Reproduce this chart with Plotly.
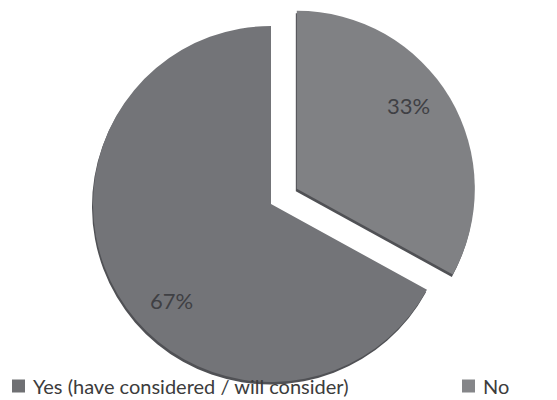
import math
import plotly.graph_objects as go

# Survey answers and their shares (%)
labels = ["Yes (have considered / will consider)", "No"]
values = [67, 33]
colors = ["#737478", "#808184"]
legend_colors = ["#6f7073", "#858689"]
shadow_color = "#505155"

W, H = 557, 400
R = 178                 # pie radius in px
CENTER = (271, 204)     # centre of the main pie in px
EXPLODE = 30            # px offset of the exploded slice
EXPLODED = 1            # index of the exploded slice
SHADOW = (-1.0, 2.5)    # px offset of the soft drop shadow

total = sum(values)
fracs = [v / total for v in values]

# the last slice starts at 12 o'clock; angles measured clockwise from the top
rotation = fracs[-1] * 360
starts, ends = [], []
acc = rotation
for f in fracs:
    starts.append(acc)
    acc += f * 360
    ends.append(acc)
mids = [(s + e) / 2 for s, e in zip(starts, ends)]


def domain_for(cx, cy):
    return dict(x=[(cx - R) / W, (cx + R) / W],
                y=[1 - (cy + R) / H, 1 - (cy - R) / H])


def centre_of(i):
    if i != EXPLODED:
        return CENTER
    a = math.radians(mids[i])
    return (CENTER[0] + EXPLODE * math.sin(a), CENTER[1] - EXPLODE * math.cos(a))


def slice_trace(i, color, dx=0.0, dy=0.0):
    slice_colors = [color if j == i else "rgba(0,0,0,0)" for j in range(len(values))]
    cx, cy = centre_of(i)
    return go.Pie(
        labels=labels, values=values, sort=False,
        direction="clockwise", rotation=rotation,
        marker=dict(colors=slice_colors, line=dict(width=0)),
        textinfo="none", hoverinfo="label+percent",
        showlegend=False, domain=domain_for(cx + dx, cy + dy),
    )


fig = go.Figure()
# shadows first, then the slices on top
for i in range(len(values)):
    fig.add_trace(slice_trace(i, shadow_color, *SHADOW))
for i in range(len(values)):
    fig.add_trace(slice_trace(i, colors[i]))

# percentage labels
label_r = 0.78
angle_tweak = [-13.5, -6]
for i, v in enumerate(values):
    cx, cy = centre_of(i)
    a = math.radians(mids[i] + angle_tweak[i])
    x = cx + label_r * R * math.sin(a)
    y = cy - label_r * R * math.cos(a)
    fig.add_annotation(x=x / W, y=1 - y / H, xref="paper", yref="paper",
                       xanchor="center", yanchor="middle",
                       text=f"{round(100 * v / total)}%", showarrow=False,
                       font=dict(family="Lato", size=22, color="#3f4044"))

# legend row: swatch squares plus labels
legend_x = [12, 462]
swatch = 13
legend_y = 386
for i, lab in enumerate(labels):
    fig.add_shape(type="rect", xref="paper", yref="paper",
                  x0=legend_x[i] / W, x1=(legend_x[i] + swatch) / W,
                  y0=1 - (legend_y + swatch / 2) / H, y1=1 - (legend_y - swatch / 2) / H,
                  fillcolor=legend_colors[i], line=dict(width=0))
    fig.add_annotation(x=(legend_x[i] + swatch + 6) / W, y=1 - legend_y / H,
                       xref="paper", yref="paper",
                       xanchor="left", yanchor="middle", showarrow=False,
                       text=lab, font=dict(family="Lato", size=20, color="#3c3c3c"))

fig.update_layout(width=W, height=H, margin=dict(l=0, r=0, t=0, b=0),
                  paper_bgcolor="white", plot_bgcolor="white")
fig.write_html("out.html")
